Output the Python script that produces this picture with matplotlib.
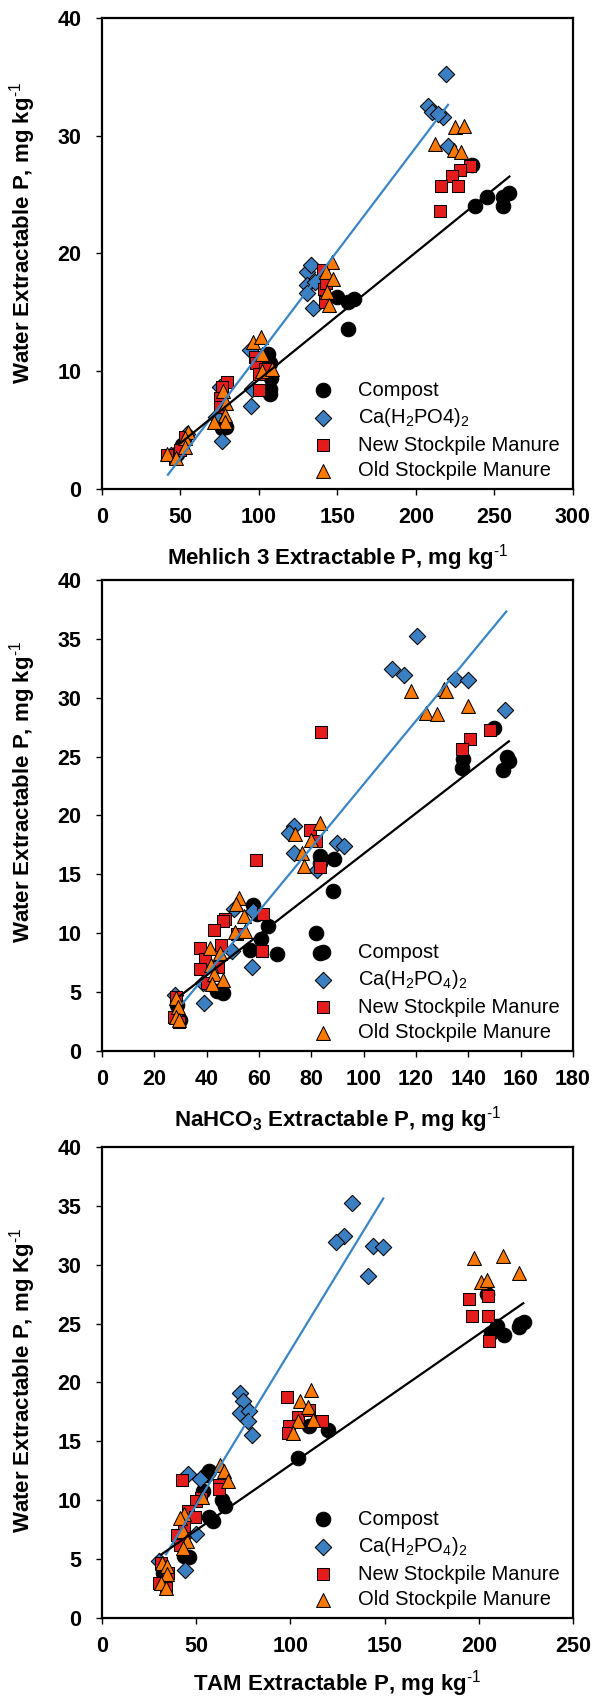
import matplotlib
matplotlib.use("Agg")
import matplotlib.pyplot as plt
import numpy as np

plt.rcParams['font.family'] = ['Liberation Sans', 'DejaVu Sans']
plt.rcParams['mathtext.fontset'] = 'custom'
plt.rcParams['mathtext.rm'] = 'Liberation Sans'
plt.rcParams['mathtext.bf'] = 'Liberation Sans:bold'
plt.rcParams['mathtext.default'] = 'regular'

# ---------------- Panel 1: Mehlich 3 ----------------
m3_compost_x = [235.7, 237.8, 245.3, 255.5, 259.1, 255.5, 149.5, 157.0, 160.3, 156.4, 106.0, 107.0, 107.0, 107.0, 107.5, 76.3, 79.0, 50.8, 48.0]
m3_compost_y = [27.5, 24.0, 24.75, 24.8, 25.1, 24.0, 16.3, 15.9, 16.1, 13.55, 11.5, 10.7, 8.5, 8.1, 9.4, 5.15, 5.3, 3.7, 3.0]
m3_ca_x = [219.3, 207.6, 210.2, 217.2, 214.0, 220.2, 130.5, 133.2, 130.5, 130.5, 135.8, 134.3, 94.4, 95.4, 95.0, 75.2, 72.7, 76.3, 54.0, 48.7, 44.0]
m3_ca_y = [35.2, 32.5, 32.0, 31.6, 31.8, 29.1, 18.44, 19.0, 17.3, 16.6, 17.6, 15.4, 11.8, 8.46, 7.07, 8.7, 6.1, 4.07, 4.7, 3.2, 2.9]
m3_new_x = [234.6, 227.8, 223.2, 216.2, 226.6, 215.5, 140.7, 141.1, 143.0, 142.2, 97.6, 98.0, 99.7, 99.7, 104.0, 79.5, 76.3, 75.2, 75.2, 52.9, 46.5, 41.7, 50.0]
m3_new_y = [27.4, 27.1, 26.6, 25.7, 25.7, 23.6, 18.6, 17.0, 17.5, 15.9, 11.2, 10.7, 9.8, 8.4, 10.2, 9.1, 8.7, 7.7, 7.0, 4.4, 2.6, 2.9, 3.3]
m3_old_x = [224.7, 230.4, 212.3, 224.0, 228.7, 146.4, 142.8, 147.1, 143.3, 144.3, 96.5, 101.2, 101.8, 101.8, 108.2, 77.0, 79.0, 78.4, 78.4, 71.4, 55.0, 52.9, 52.9, 41.7, 47.2]
m3_old_y = [30.7, 30.8, 29.3, 28.8, 28.6, 19.3, 18.4, 17.8, 16.7, 15.6, 12.5, 12.9, 11.5, 10.0, 10.2, 8.3, 7.3, 6.3, 5.7, 5.7, 4.8, 4.3, 3.6, 3.0, 2.6]
# regression lines: slope, intercept, x start, x end
m3_ca_fit = [0.176, -6.18, 42.0, 220.4]
m3_all_fit = [0.108, -1.5, 50.0, 259.5]

# ---------------- Panel 2: NaHCO3 ----------------
na_compost_x = [149.7, 138.0, 137.6, 154.6, 155.5, 153.3, 83.2, 88.8, 83.2, 88.1, 57.7, 59.2, 63.6, 60.7, 56.6, 66.8, 81.9, 83.4, 43.9, 46.2, 28.8, 29.8]
na_compost_y = [27.45, 24.76, 24.0, 25.0, 24.65, 23.85, 16.6, 16.3, 16.0, 13.6, 12.4, 11.6, 10.65, 9.5, 8.55, 8.24, 10.0, 8.3, 5.1, 4.97, 3.9, 2.6]
na_ca_x = [120.4, 110.8, 115.6, 135.1, 139.8, 154.2, 73.5, 71.3, 73.2, 89.8, 92.6, 82.1, 50.5, 57.9, 49.6, 57.3, 38.8, 27.9, 28.8, 38.5]
na_ca_y = [35.2, 32.4, 31.9, 31.6, 31.5, 28.95, 19.1, 18.55, 16.85, 17.7, 17.4, 15.4, 12.07, 11.9, 8.5, 7.1, 4.1, 4.8, 2.8, 5.8]
na_new_x = [83.8, 148.1, 140.8, 137.4, 79.6, 81.9, 58.8, 83.4, 61.5, 47.1, 46.4, 42.9, 51.5, 61.1, 45.4, 37.5, 39.2, 37.5, 44.5, 40.1, 28.3, 27.6, 29.6]
na_new_y = [27.1, 27.25, 26.5, 25.6, 18.8, 17.8, 16.2, 15.6, 11.6, 11.2, 11.0, 10.25, 9.9, 8.5, 9.0, 8.75, 7.8, 7.0, 7.1, 5.8, 4.6, 2.9, 2.5]
na_old_x = [118.1, 130.6, 131.6, 139.8, 124.0, 128.0, 83.2, 73.9, 79.8, 76.4, 77.3, 52.2, 51.1, 54.3, 50.9, 54.7, 41.3, 45.2, 41.6, 42.9, 46.4, 42.0, 28.3, 29.2, 28.3, 29.6]
na_old_y = [30.6, 30.7, 30.6, 29.3, 28.7, 28.6, 19.4, 18.4, 17.9, 16.8, 15.7, 13.0, 12.5, 11.5, 10.1, 10.2, 8.75, 8.3, 7.3, 6.5, 6.0, 5.7, 4.5, 3.7, 2.9, 2.6]
na_ca_fit = [0.269, -4.25, 31.0, 154.5]
na_all_fit = [0.172, -0.45, 30.0, 155.5]

# ---------------- Panel 3: TAM ----------------
tam_compost_x = [204.3, 209.7, 206.5, 213.6, 222.0, 223.8, 221.2, 110.0, 120.1, 104.0, 57.0, 55.2, 53.4, 63.5, 65.3, 57.0, 58.7, 43.7, 46.0, 32.2]
tam_compost_y = [27.5, 24.8, 24.2, 24.0, 24.95, 25.1, 24.7, 16.3, 16.0, 13.6, 12.5, 12.1, 10.8, 10.06, 9.5, 8.6, 8.2, 5.24, 5.16, 3.8]
tam_ca_x = [132.7, 128.3, 124.2, 143.7, 149.3, 141.4, 73.2, 74.7, 73.2, 78.2, 77.3, 79.6, 45.5, 52.2, 49.9, 44.1, 42.8, 30.4]
tam_ca_y = [35.2, 32.4, 31.9, 31.6, 31.5, 29.0, 19.07, 18.45, 17.4, 17.6, 16.7, 15.5, 12.2, 11.84, 7.14, 4.1, 6.9, 4.8]
tam_new_x = [195.0, 205.0, 196.2, 204.7, 205.6, 98.2, 103.9, 110.0, 116.6, 99.4, 98.5, 42.5, 61.9, 61.9, 52.5, 49.9, 45.5, 49.4, 43.3, 39.8, 41.6, 31.3, 30.4, 34.0, 35.2]
tam_new_y = [27.1, 27.3, 25.6, 25.6, 23.5, 18.8, 17.1, 17.7, 16.7, 16.3, 15.7, 11.7, 11.33, 10.96, 10.2, 9.9, 9.07, 8.6, 7.85, 7.08, 6.2, 4.67, 2.97, 2.55, 3.8]
tam_old_x = [197.6, 212.7, 221.5, 201.2, 204.4, 110.9, 105.3, 109.2, 111.8, 103.8, 101.2, 62.8, 64.6, 67.1, 53.1, 43.7, 41.6, 42.8, 45.1, 42.8, 31.7, 34.5, 34.5, 31.3, 34.0]
tam_old_y = [30.6, 30.7, 29.25, 28.5, 28.7, 19.35, 18.4, 17.9, 16.85, 16.7, 15.7, 13.0, 12.5, 11.6, 10.3, 8.8, 8.5, 7.4, 6.5, 5.95, 4.67, 4.4, 3.7, 2.97, 2.55]
tam_ca_fit = [0.262, -3.5, 34.0, 149.3]
tam_all_fit = [0.111, 1.9, 31.3, 223.6]

series_names = ["Compost", None, "New Stockpile Manure", "Old Stockpile Manure"]
ca_label_1 = "Ca(H$_2$PO4)$_2$"
ca_label_23 = "Ca(H$_2$PO$_4$)$_2$"

x_labels = ["Mehlich 3 Extractable P, mg kg$^{\\text{-1}}$",
            "NaHCO$_3$ Extractable P, mg kg$^{\\text{-1}}$",
            "TAM Extractable P, mg kg$^{\\text{-1}}$"]
y_labels = ["Water Extractable P, mg kg$^{\\text{-1}}$",
            "Water Extractable P, mg kg$^{\\text{-1}}$",
            "Water Extractable P, mg Kg$^{\\text{-1}}$"]
x_ticks = [np.arange(0, 301, 50), np.arange(0, 181, 20), np.arange(0, 251, 50)]
y_ticks = [np.arange(0, 41, 10), np.arange(0, 41, 5), np.arange(0, 41, 5)]
x_lims = [(0, 300), (0, 180), (0, 250)]

C_BLACK = "#000000"
C_BLUE = "#3a7fc1"
C_RED = "#e41d1c"
C_ORANGE = "#ff7800"
C_LINE_BLUE = "#3a85c6"

fig = plt.figure(figsize=(5.94, 16.98), dpi=100)
left, width = 0.1717, 0.7929
bottoms = [0.7120, 0.3810, 0.0471]
height = 0.2775

panels = [
    (m3_compost_x, m3_compost_y, m3_ca_x, m3_ca_y, m3_new_x, m3_new_y, m3_old_x, m3_old_y, m3_ca_fit, m3_all_fit, ca_label_1),
    (na_compost_x, na_compost_y, na_ca_x, na_ca_y, na_new_x, na_new_y, na_old_x, na_old_y, na_ca_fit, na_all_fit, ca_label_23),
    (tam_compost_x, tam_compost_y, tam_ca_x, tam_ca_y, tam_new_x, tam_new_y, tam_old_x, tam_old_y, tam_ca_fit, tam_all_fit, ca_label_23),
]
ylabel_y = [0.543, 0.55, 0.505]
xlabel_y = [-0.112, -0.112, -0.106]

for i, p in enumerate(panels):
    cx, cy, bx, by, nx, ny, ox, oy, cafit, allfit, calab = p
    ax = fig.add_axes([left, bottoms[i], width, height])
    h1 = ax.scatter(cx, cy, s=110, marker='o', facecolor=C_BLACK, edgecolor='black', linewidth=0.75, zorder=3, label=series_names[0])
    h2 = ax.scatter(bx, by, s=70, marker='D', facecolor=C_BLUE, edgecolor='black', linewidth=0.75, zorder=3, label=calab)
    h3 = ax.scatter(nx, ny, s=75, marker='s', facecolor=C_RED, edgecolor='black', linewidth=0.75, zorder=3, label=series_names[2])
    h4 = ax.scatter(ox, oy, s=100, marker='^', facecolor=C_ORANGE, edgecolor='black', linewidth=0.75, zorder=3, label=series_names[3])
    xb = np.array([cafit[2], cafit[3]])
    ax.plot(xb, cafit[0] * xb + cafit[1], color=C_LINE_BLUE, lw=1.6, zorder=4)
    xa = np.array([allfit[2], allfit[3]])
    ax.plot(xa, allfit[0] * xa + allfit[1], color='black', lw=1.6, zorder=4)

    ax.set_xlim(*x_lims[i])
    ax.set_ylim(0, 40)
    ax.set_xticks(x_ticks[i])
    ax.set_yticks(y_ticks[i])
    ax.tick_params(direction='out', length=4, width=1, labelsize=15.5, pad=9)
    ax.tick_params(axis='y', pad=11)
    for lab in ax.get_xticklabels() + ax.get_yticklabels():
        lab.set_fontweight('bold')
    for sp in ax.spines.values():
        sp.set_linewidth(1.6)
    ax.set_xlabel(x_labels[i], fontsize=16, fontweight='bold')
    ax.set_ylabel(y_labels[i], fontsize=16, fontweight='bold')
    ax.xaxis.set_label_coords(0.5, xlabel_y[i])
    ax.yaxis.set_label_coords(-0.136, ylabel_y[i])

    ax.legend(handles=[h1, h2, h3, h4], loc='lower left', bbox_to_anchor=(0.448, 0.019),
              frameon=False, fontsize=14.5, handlelength=1.0, handletextpad=1.25,
              labelspacing=0.32, borderpad=0, borderaxespad=0, scatterpoints=1)

fig.savefig("out.png", dpi=100)
